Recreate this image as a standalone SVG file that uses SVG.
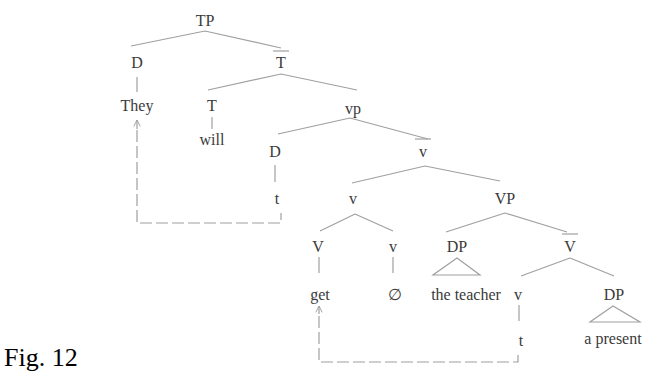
<svg xmlns="http://www.w3.org/2000/svg" width="652" height="381" viewBox="0 0 652 381">
<defs>
<style>
text{font-family:"Liberation Serif","Times New Roman",serif;font-size:16px;fill:#3a3a3a;text-anchor:middle}
.e{stroke:#a0a0a0;stroke-width:1.2;fill:none}
.d{stroke:#a0a0a0;stroke-width:1.2;fill:none;stroke-dasharray:12 4}
.fig{font-family:"Liberation Serif","Times New Roman",serif;font-size:26px;fill:#000;text-anchor:start}
</style>
<marker id="up" viewBox="0 0 10 10" refX="9" refY="5" markerWidth="8" markerHeight="8" markerUnits="userSpaceOnUse" orient="auto">
<path d="M1,1 L9,5 L1,9" class="e"/>
</marker>
</defs>
<rect width="652" height="381" fill="#fff"/>
<g id="connectors">
<path class="e" d="M205,31 L131,46 M205,31 L281,48"/>
<path class="e" d="M137,77 V92"/>
<path class="e" d="M281,74 L208,90 M281,74 L357,90"/>
<path class="e" d="M212,117 V129"/>
<path class="e" d="M350,118 L278,134 M350,118 L428,139"/>
<path class="e" d="M275,165 V182"/>
<path class="e" d="M425,166 L352,183 M425,166 L500,181"/>
<path class="e" d="M355,214 L320,231 M355,214 L393,231"/>
<path class="e" d="M505,213 L446,232 M505,213 L567,232"/>
<path class="e" d="M319,257 V273 M393,257 V273"/>
<path class="e" d="M570,258 L521,276 M570,258 L614,276"/>
<path class="e" d="M519,305 V321"/>
<path class="e" d="M137,129 V120" marker-end="url(#up)"/>
<path class="d" d="M137,130 V223 H281 V213"/>
<path class="e" d="M319,314 V306" marker-end="url(#up)"/>
<path class="d" d="M319,316 V362 H518 V354"/>
</g>
<g id="TP"><text x="205" y="26">TP</text></g>
<g id="D1"><text x="137" y="68">D</text></g>
<g id="Tbar"><text x="281" y="68">T</text><path class="e" d="M273,51 H289"/></g>
<g id="They"><text x="137" y="111">They</text></g>
<g id="T"><text x="212" y="111">T</text></g>
<g id="vp"><text x="353" y="114">vp</text></g>
<g id="will"><text x="212" y="145">will</text></g>
<g id="D2"><text x="275" y="157">D</text></g>
<g id="vbar"><text x="423" y="157">v</text><path class="e" d="M415,139 H431"/></g>
<g id="t1"><text x="277" y="204">t</text></g>
<g id="v1"><text x="353" y="204">v</text></g>
<g id="VP"><text x="505" y="204">VP</text></g>
<g id="V"><text x="318" y="252">V</text></g>
<g id="v2"><text x="393" y="252">v</text></g>
<g id="DP1"><text x="457" y="252">DP</text><path class="e" d="M457,258 L433,275 H480 Z"/></g>
<g id="Vbar"><text x="570" y="252">V</text><path class="e" d="M562,234 H578"/></g>
<g id="get"><text x="320" y="300">get</text></g>
<g id="null"><text x="395" y="300">∅</text></g>
<g id="theteacher"><text x="466" y="300">the teacher</text></g>
<g id="v3"><text x="518" y="300">v</text></g>
<g id="DP2"><text x="614" y="300">DP</text><path class="e" d="M613,306 L590,322 H640 Z"/></g>
<g id="t2"><text x="521" y="346">t</text></g>
<g id="apresent"><text x="613" y="344">a present</text></g>
<text class="fig" x="4" y="366">Fig. 12</text>
</svg>
